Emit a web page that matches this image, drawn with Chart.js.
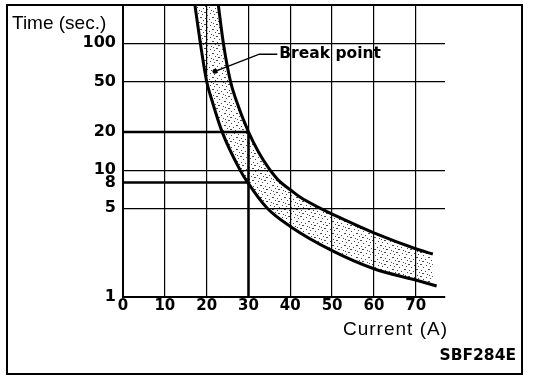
<!DOCTYPE html>
<html>
<head>
<meta charset="utf-8">
<script src="https://cdn.jsdelivr.net/npm/chart.js@4/dist/chart.umd.min.js"></script>
<style>
html,body{margin:0;padding:0;background:#fff;}
#wrap{width:544px;height:382px;position:relative;}
canvas{display:block;}
</style>
</head>
<body>
<div id="wrap"><canvas id="c" width="544" height="382"></canvas></div>
<script>
// ---- data ----
const currentTicks = [0, 10, 20, 30, 40, 50, 60, 70];
const timeTicks = [1, 5, 8, 10, 20, 50, 100];

// upper limit curve (current A, time s) - first two points lie above the plot top
const upperX = [16.5, 20.5, 22.8, 24, 25.7, 27, 30, 32.4, 34.8, 37.2, 40, 42.4, 47.2, 52, 60, 70, 74.1];
const upperT = [30000, 800, 200, 100, 50, 36, 20, 13.9, 10.4, 8.3, 7.0, 6.1, 5.0, 4.2, 3.2, 2.4, 2.18];

// lower limit curve
const lowerX = [17.2, 18.5, 20, 21.2, 23.7, 28, 29.8, 34.5, 40, 50, 60, 70, 75];
const lowerT = [200, 100, 50, 36, 20, 10, 8, 5, 3.6, 2.32, 1.67, 1.36, 1.22];

// reference lines to the break points
const ref20X = [0, 30], ref20T = [20, 20];
const ref8X = [0, 30], ref8T = [8, 8];
const ref30X = [30, 30], ref30T = [1, 20];

// "Break point" leader (pointer dot, elbow, end)
const leaderX = [22, 32.6, 36.9];
const leaderT = [60, 82, 82];
const leaderText = 'Break point';

const yTitle = 'Time (sec.)';
const xTitle = 'Current (A)';
const figCode = 'SBF284E';

// ---- helpers ----
const pts = (xs, ys) => xs.map((x, i) => ({ x: x, y: ys[i] }));

function stipple() {
  const c = document.createElement('canvas');
  c.width = 12; c.height = 12;
  const g = c.getContext('2d');
  g.fillStyle = 'rgba(0,0,0,0.7)';
  const dots = [[0,0,2],[6,1,1],[10,2,1],[3,3,1],[8,5,2],[1,6,1],[5,7,1],[11,8,1],[2,9,2],[7,10,1],[9,11,1]];
  dots.forEach(d => g.fillRect(d[0], d[1], d[2], 1));
  return g.createPattern(c, 'repeat');
}

const tickFont = { family: 'DejaVu Sans', weight: 'bold', size: 16 };
const xTickFont = { family: 'DejaVu Sans', weight: 'bold', size: 15 };

const lineDs = (xs, ys, w) => ({
  data: pts(xs, ys), showLine: true, borderColor: '#000', borderWidth: w,
  pointRadius: 0, fill: false, tension: 0, borderCapStyle: 'butt'
});

const annot = {
  id: 'annot',
  beforeDraw(chart) {
    const c = chart.ctx;
    c.save(); c.fillStyle = '#fff'; c.fillRect(0, 0, chart.width, chart.height); c.restore();
  },
  afterDraw(chart) {
    const c = chart.ctx, xs = chart.scales.x, ys = chart.scales.y;
    c.save();
    // leader
    const p = leaderX.map((x, i) => [xs.getPixelForValue(x), ys.getPixelForValue(leaderT[i])]);
    c.strokeStyle = '#000'; c.lineWidth = 1.5;
    c.beginPath(); c.moveTo(p[0][0], p[0][1]);
    for (let i = 1; i < p.length; i++) c.lineTo(p[i][0], p[i][1]);
    c.stroke();
    c.fillStyle = '#000';
    c.beginPath(); c.arc(p[0][0], p[0][1], 2.5, 0, Math.PI * 2); c.fill();
    c.font = 'bold 15.5px "DejaVu Sans"';
    c.textBaseline = 'middle'; c.textAlign = 'left';
    c.fillText(leaderText, p[2][0] + 2, p[2][1]);
    // titles
    c.font = '19px "Liberation Sans"';
    c.textBaseline = 'alphabetic';
    c.fillText(yTitle, 12, 29);
    c.letterSpacing = '1px';
    c.fillText(xTitle, 343, 335);
    c.letterSpacing = '0px';
    c.font = 'bold 15.5px "DejaVu Sans"';
    c.textAlign = 'right';
    c.fillText(figCode, 516, 360);
    // frame
    c.lineWidth = 2;
    c.strokeRect(7, 5, 515, 369);
    c.restore();
  }
};

const noPad = s => { s.paddingTop = 0; s.paddingBottom = 0; s.paddingLeft = 0; s.paddingRight = 0; };

new Chart(document.getElementById('c'), {
  type: 'scatter',
  data: {
    datasets: [
      { data: pts(upperX, upperT), showLine: true, borderColor: '#000', borderWidth: 3,
        pointRadius: 0, cubicInterpolationMode: 'monotone', fill: false },
      { data: pts(lowerX, lowerT), showLine: true, borderColor: '#000', borderWidth: 3,
        pointRadius: 0, cubicInterpolationMode: 'monotone', fill: { target: 0 },
        backgroundColor: stipple() },
      lineDs(ref20X, ref20T, 2.5),
      lineDs(ref8X, ref8T, 2.5),
      lineDs(ref30X, ref30T, 2.5)
    ]
  },
  options: {
    responsive: false, animation: false, devicePixelRatio: 1,
    layout: { padding: { left: 0, right: 99, top: 5, bottom: 0 } },
    plugins: { legend: { display: false }, tooltip: { enabled: false } },
    scales: {
      x: {
        type: 'linear', min: 0, max: 77,
        afterBuildTicks: s => { s.ticks = currentTicks.map(v => ({ value: v })); },
        afterFit: s => { s.height = 85; noPad(s); },
        ticks: { font: xTickFont, color: '#000', padding: 0, maxRotation: 0, autoSkip: false,
                 callback: v => String(v) },
        grid: { color: c => (c.tick && c.tick.value === 0) ? 'rgba(0,0,0,0)' : '#000',
                lineWidth: 1.2, drawTicks: false },
        border: { display: true, color: '#000', width: 2 }
      },
      y: {
        type: 'logarithmic', min: 1, max: 200,
        afterBuildTicks: s => { s.ticks = timeTicks.map(v => ({ value: v })); },
        afterFit: s => { s.width = 123; noPad(s); },
        ticks: { font: tickFont, color: '#000', padding: 7, autoSkip: false,
                 callback: v => String(v) },
        grid: { color: c => (c.tick && [1, 8, 20].includes(c.tick.value)) ? 'rgba(0,0,0,0)' : '#000',
                lineWidth: 1.2, drawTicks: false },
        border: { display: true, color: '#000', width: 2 }
      }
    }
  },
  plugins: [annot]
});
</script>
</body>
</html>
